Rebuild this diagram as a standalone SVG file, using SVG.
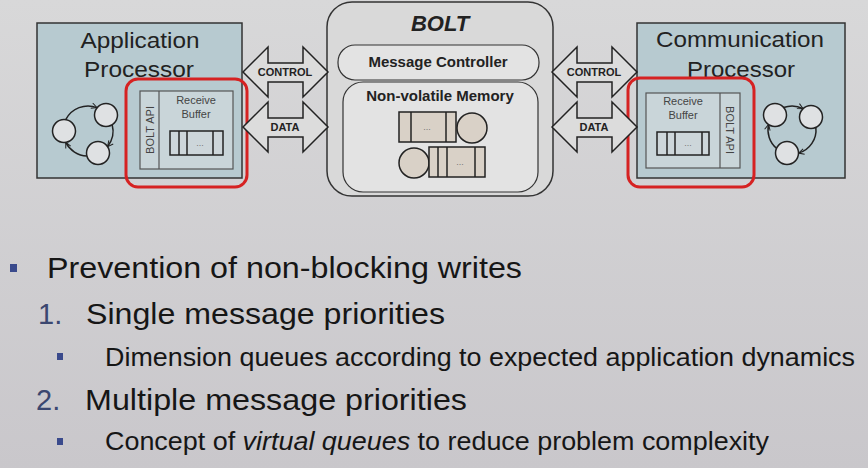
<svg xmlns="http://www.w3.org/2000/svg" width="868" height="468" viewBox="0 0 868 468">
<defs>
<linearGradient id="bg" x1="0" y1="0" x2="0" y2="1">
<stop offset="0" stop-color="#d8d8d9"/>
<stop offset="1" stop-color="#c9c7cb"/>
</linearGradient>
<marker id="chev" viewBox="0 0 10 10" refX="9" refY="5" markerWidth="7" markerHeight="7" orient="auto" markerUnits="userSpaceOnUse">
<path d="M1,1 L9,5 L1,9" fill="none" stroke="#222" stroke-width="1.4"/>
</marker>
<style>
.proc{fill:#b7cad0;stroke:#333;stroke-width:1.5}
.ptxt{font-family:"Liberation Sans",Arial,sans-serif;font-size:22px;fill:#222;text-anchor:middle}
.red{fill:none;stroke:#d62222;stroke-width:3}
.inner{fill:#c9d5d9;stroke:#555;stroke-width:1.2}
.small{font-family:"Liberation Sans",Arial,sans-serif;font-size:11px;fill:#444;text-anchor:middle}
.q{fill:#cdd6da;stroke:#222;stroke-width:1.5}
.ql{stroke:#222;stroke-width:1.5}
.dots{font-family:"Liberation Sans",Arial,sans-serif;font-size:9px;fill:#777;text-anchor:middle}
.loop{fill:none;stroke:#222;stroke-width:1.5}
.node{fill:#dfe1e3;stroke:#222;stroke-width:1.5}
.arrow{fill:#dcdcdc;stroke:#222;stroke-width:1.5;stroke-linejoin:miter}
.alab{font-family:"Liberation Sans",Arial,sans-serif;font-size:11px;font-weight:bold;fill:#222;text-anchor:middle}
.bolt{fill:#d9d9d9;stroke:#333;stroke-width:1.5}
.pill{fill:#e3e3e3;stroke:#333;stroke-width:1.2}
.btxt{font-family:"Liberation Sans",Arial,sans-serif;font-size:15px;font-weight:bold;fill:#222;text-anchor:middle}
.mq{fill:#d9d1c7;stroke:#222;stroke-width:1.5}
.b1{font-family:"Liberation Sans",Arial,sans-serif;font-size:29px;fill:#161616}
.b2{font-family:"Liberation Sans",Arial,sans-serif;font-size:25px;fill:#161616}
.num{font-family:"Liberation Sans",Arial,sans-serif;font-size:29px;fill:#3b4770}
.bul{fill:#3a4a8c}
</style>
</defs>
<rect x="0" y="0" width="868" height="468" fill="url(#bg)"/>

<g id="app-processor">
<rect class="proc" x="37" y="23" width="205" height="155"/>
<text class="ptxt" x="140" y="48" textLength="119" lengthAdjust="spacingAndGlyphs">Application</text>
<text class="ptxt" x="139" y="77" textLength="110" lengthAdjust="spacingAndGlyphs">Processor</text>
<g id="app-loop">
<path class="loop" d="M65.73,119.65 A25,25 0 0 1 96.96,107.66" marker-end="url(#chev)"/>
<path class="loop" d="M112.15,124.53 A25,25 0 0 1 107.54,146.6" marker-end="url(#chev)"/>
<path class="loop" d="M86.87,155.97 A25,25 0 0 1 65.73,142.35" marker-end="url(#chev)"/>
<circle class="node" cx="106" cy="115" r="11.5"/>
<circle class="node" cx="64" cy="131" r="11.5"/>
<circle class="node" cx="98" cy="153" r="11.5"/>
</g>
<g id="app-buffer">
<rect class="inner" x="140" y="91" width="93" height="78"/>
<line x1="159" y1="91" x2="159" y2="169" style="stroke:#555;stroke-width:1.2"/>
<text class="small" transform="translate(154,130) rotate(-90)">BOLT API</text>
<text class="small" x="196" y="104">Receive</text>
<text class="small" x="196" y="118">Buffer</text>
<rect class="q" x="170" y="131" width="53" height="24"/>
<line class="ql" x1="179" y1="131" x2="179" y2="155"/>
<line class="ql" x1="187" y1="131" x2="187" y2="155"/>
<line class="ql" x1="213" y1="131" x2="213" y2="155"/>
<text class="dots" x="200" y="146">...</text>
</g>
<rect class="red" x="126" y="79" width="121" height="108" rx="12"/>
</g>

<g id="comm-processor">
<rect class="proc" x="637" y="23" width="208" height="155"/>
<text class="ptxt" x="740" y="47" textLength="168" lengthAdjust="spacingAndGlyphs">Communication</text>
<text class="ptxt" x="741" y="77" textLength="108" lengthAdjust="spacingAndGlyphs">Processor</text>
<g id="comm-loop">
<path class="loop" d="M783.56,107.53 A24,24 0 0 1 803.12,108.73" marker-end="url(#chev)"/>
<path class="loop" d="M815.85,127.32 A24,24 0 0 1 798.49,153.1" marker-end="url(#chev)"/>
<path class="loop" d="M776.48,148.3 A24,24 0 0 1 768.65,124.44" marker-end="url(#chev)"/>
<circle class="node" cx="775" cy="115" r="11.5"/>
<circle class="node" cx="811" cy="117" r="11.5"/>
<circle class="node" cx="787" cy="153" r="11.5"/>
</g>
<g id="comm-buffer">
<rect class="inner" x="646" y="93" width="94" height="75"/>
<line x1="720" y1="93" x2="720" y2="168" style="stroke:#555;stroke-width:1.2"/>
<text class="small" transform="translate(726,130) rotate(90)">BOLT API</text>
<text class="small" x="683" y="105">Receive</text>
<text class="small" x="683" y="119">Buffer</text>
<rect class="q" x="657" y="132" width="52" height="23"/>
<line class="ql" x1="667" y1="132" x2="667" y2="155"/>
<line class="ql" x1="675" y1="132" x2="675" y2="155"/>
<line class="ql" x1="702" y1="132" x2="702" y2="155"/>
<text class="dots" x="688" y="146">...</text>
</g>
<rect class="red" x="628" y="78" width="126" height="109" rx="12"/>
</g>

<g id="bolt">
<rect class="bolt" x="327" y="2" width="226" height="194" rx="25"/>
<text x="440" y="31" style="font-family:'Liberation Sans',Arial,sans-serif;font-size:22px;font-weight:bold;font-style:italic;fill:#222;text-anchor:middle">BOLT</text>
<g id="message-controller">
<rect class="pill" x="338" y="45" width="201" height="35" rx="17"/>
<text class="btxt" x="438" y="67">Message Controller</text>
</g>
<g id="nv-memory">
<rect class="pill" x="343" y="82" width="195" height="110" rx="20"/>
<text class="btxt" x="440" y="101">Non-volatile Memory</text>
<rect class="mq" x="399" y="112" width="57" height="30"/>
<line class="ql" x1="411" y1="112" x2="411" y2="142"/>
<line class="ql" x1="446" y1="112" x2="446" y2="142"/>
<text class="dots" x="427" y="130">...</text>
<circle class="mq" cx="472" cy="128" r="15"/>
<circle class="mq" cx="414" cy="163" r="15"/>
<rect class="mq" x="429" y="147" width="56" height="30"/>
<line class="ql" x1="438" y1="147" x2="438" y2="177"/>
<line class="ql" x1="447" y1="147" x2="447" y2="177"/>
<line class="ql" x1="475" y1="147" x2="475" y2="177"/>
<text class="dots" x="460" y="165">...</text>
</g>
</g>

<g id="connectors">
<g id="left-control">
<polygon class="arrow" points="243,72 268,47 268,63 303,63 303,47 328,72 303,97 303,82 268,82 268,97"/>
<text class="alab" x="285" y="76">CONTROL</text>
</g>
<g id="left-data">
<polygon class="arrow" points="243,127 268,102 268,118 303,118 303,102 328,127 303,152 303,137 268,137 268,152"/>
<text class="alab" x="285" y="131">DATA</text>
</g>
<g id="right-control">
<polygon class="arrow" points="552,72 577,47 577,63 612,63 612,47 637,72 612,97 612,82 577,82 577,97"/>
<text class="alab" x="594" y="76">CONTROL</text>
</g>
<g id="right-data">
<polygon class="arrow" points="552,127 577,102 577,118 612,118 612,102 637,127 612,152 612,137 577,137 577,152"/>
<text class="alab" x="594" y="131">DATA</text>
</g>
</g>

<g id="bullets">
<rect class="bul" x="10" y="264" width="7" height="8"/>
<text class="b1" x="47" y="278" textLength="475" lengthAdjust="spacingAndGlyphs">Prevention of non-blocking writes</text>
<text class="num" x="38" y="324">1.</text>
<text class="b1" x="86" y="324" textLength="359" lengthAdjust="spacingAndGlyphs">Single message priorities</text>
<rect class="bul" x="57" y="353" width="6" height="7"/>
<text class="b2" x="105" y="366" textLength="750" lengthAdjust="spacingAndGlyphs">Dimension queues according to expected application dynamics</text>
<text class="num" x="36" y="410">2.</text>
<text class="b1" x="85" y="410" textLength="382" lengthAdjust="spacingAndGlyphs">Multiple message priorities</text>
<rect class="bul" x="57" y="438" width="6" height="7"/>
<text class="b2" x="105" y="450" textLength="664" lengthAdjust="spacingAndGlyphs">Concept of <tspan font-style="italic">virtual queues</tspan> to reduce problem complexity</text>
</g>
</svg>
